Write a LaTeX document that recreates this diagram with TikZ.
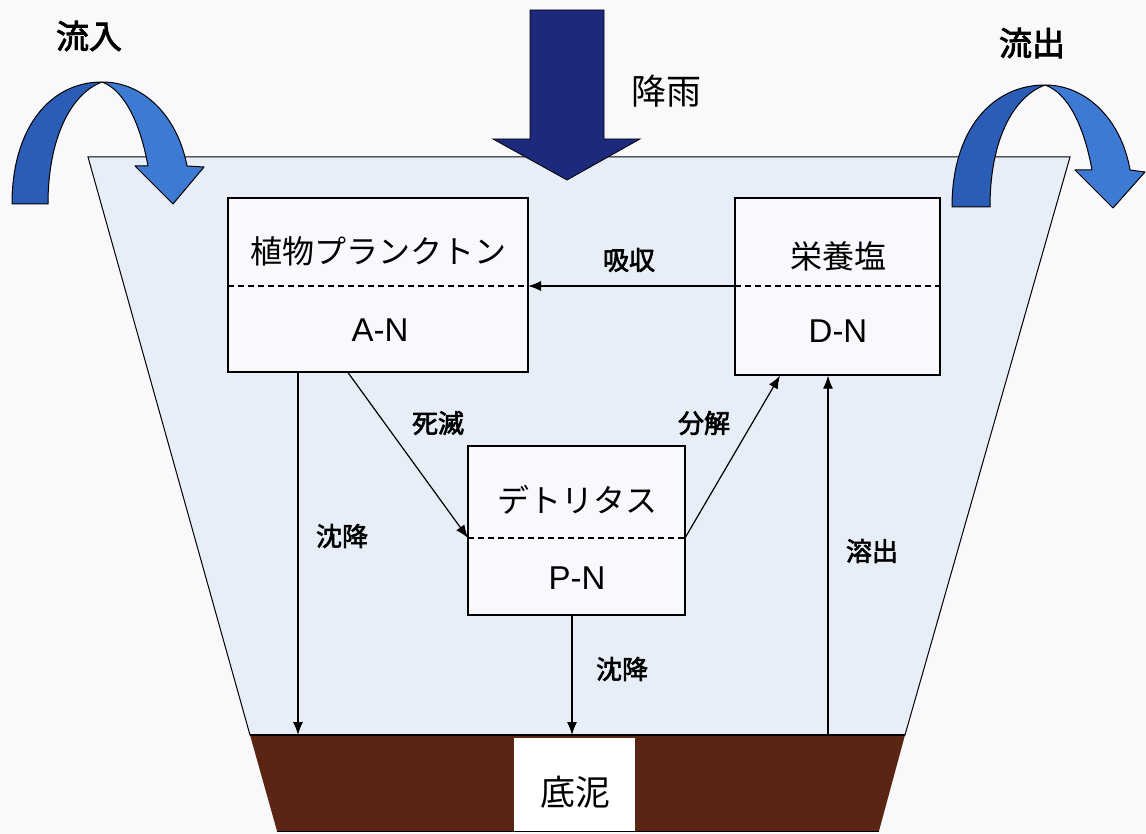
\documentclass[tikz,border=0pt]{standalone}
\usepackage{fontspec}
\setmainfont{Liberation Sans}
\newfontfamily\jp{Noto Sans CJK JP}
\newfontfamily\jpb{Noto Sans CJK JP}[FakeBold=2.5]
\usetikzlibrary{arrows.meta,calc}
\definecolor{bg}{HTML}{F9F9FC}
\definecolor{water}{HTML}{E7EEF7}
\definecolor{boxfill}{HTML}{F8F9FC}
\definecolor{mud}{HTML}{5A2513}
\definecolor{navy}{HTML}{1D2A7B}
\definecolor{blueA}{HTML}{2C5DB6}
\definecolor{blueB}{HTML}{3C7AD3}
\begin{document}
\begin{tikzpicture}[x=1pt,y=-1pt,
  box/.style={draw=black,line width=1.2pt,fill=boxfill,inner sep=0pt},
  title/.style={font=\jp\fontsize{32}{36}\selectfont},
  code/.style={font=\fontsize{33}{36}\selectfont},
  lab/.style={font=\jpb\fontsize{26}{30}\selectfont},
  big/.style={font=\jp\fontsize{35}{38}\selectfont},
  arr/.style={line width=1.2pt,-{Latex[length=13pt,width=10pt]}},
  divider/.style={dashed,line width=1.1pt,dash pattern=on 6pt off 4pt},
  curved/.style={draw=black,line width=1pt,line join=round}]
\useasboundingbox (0,0) rectangle (1146,834);
\fill[bg] (0,0) rectangle (1146,834);
% water body
\filldraw[fill=water,draw=black,line width=1pt] (88,157) -- (1070,157) -- (905,735) -- (250,735) -- cycle;
% sediment
\fill[mud] (250,735) -- (905,735) -- (879,831) -- (277,831) -- cycle;
\draw[line width=1pt] (277,831) -- (879,831);
\node[fill=white,minimum width=121pt,minimum height=93pt,inner sep=0pt] (S) at (574.5,784) {};
\node[big] (Slab) at (575,792) {底泥};
\draw[line width=2pt] (250,735) -- (905,735);
\coordinate (s1) at (298,735);
\coordinate (s2) at (572,735);
\coordinate (s3) at (828,735);
% boxes
\node[box,minimum width=300pt,minimum height=174pt] (A) at (378,285) {};
\node[box,minimum width=205pt,minimum height=177pt] (D) at (837.5,286.5) {};
\node[box,minimum width=217pt,minimum height=169pt] (P) at (576.5,530.5) {};
\coordinate (Aw) at (228,286); \coordinate (Ae) at (528,286);
\coordinate (Dw) at (735,286); \coordinate (De) at (940,286);
\coordinate (Pw) at (468,538); \coordinate (Pe) at (685,538);
\draw[divider] (Aw) -- (Ae);
\draw[divider] (Dw) -- (De);
\draw[divider] (Pw) -- (Pe);
\node[title] (At) at (378,251) {植物プランクトン};
\node[code] (Ac) at (380,330) {A-N};
\node[title] (Dt) at (838,256) {栄養塩};
\node[code] (Dc) at (838,331) {D-N};
\node[title] (Pt) at (577,500) {デトリタス};
\node[code] (Pc) at (577,578) {P-N};
% connectors
\draw[arr] (Dw) -- (Ae);
\draw[arr] ([xshift=-30pt]A.south) -- (Pw);
\draw[arr] (Pe) -- ([xshift=-57.5pt]D.south);
\draw[arr] ([xshift=-80pt]A.south) -- (s1);
\draw[arr] ([xshift=-4.5pt]P.south) -- (s2);
\draw[arr] (s3) -- ([xshift=-9.5pt]D.south);
\node[lab] (l1) at (629,260) {吸収};
\node[lab] (l2) at (438,423) {死滅};
\node[lab] (l3) at (704,423) {分解};
\node[lab] (l4) at (342,536) {沈降};
\node[lab] (l5) at (622,669) {沈降};
\node[lab] (l6) at (872,551) {溶出};
% rain arrow
\filldraw[fill=navy,draw=black,line width=0.8pt] (530,10) -- (604,10) -- (604,139) -- (640,139) -- (567,180) -- (493,139) -- (530,139) -- cycle;
\node[big] (rain) at (666,91) {降雨};
% inflow arrow
\filldraw[fill=blueA,curved] (12,204) .. controls (12,128) and (50,82) .. (102,82) .. controls (70,94) and (48,140) .. (48,204) -- cycle;
\filldraw[fill=blueB,curved] (102,82) .. controls (145,82) and (178,118) .. (187,166) -- (204,167) -- (173,204) -- (135,166) -- (148,166) .. controls (140,122) and (124,90) .. (102,82) -- cycle;
\node[font=\jpb\fontsize{33}{36}\selectfont] (inl) at (89,36) {流入};
% outflow arrow
\filldraw[fill=blueA,curved] (952,207) .. controls (952,130) and (992,85) .. (1045,85) .. controls (1013,97) and (990,140) .. (990,207) -- cycle;
\filldraw[fill=blueB,curved] (1045,85) .. controls (1088,85) and (1122,122) .. (1130,170) -- (1145,172) -- (1113,208) -- (1075,170) -- (1092,170) .. controls (1084,126) and (1068,93) .. (1045,85) -- cycle;
\node[font=\jpb\fontsize{33}{36}\selectfont] (outl) at (1032,43) {流出};
\end{tikzpicture}
\end{document}
